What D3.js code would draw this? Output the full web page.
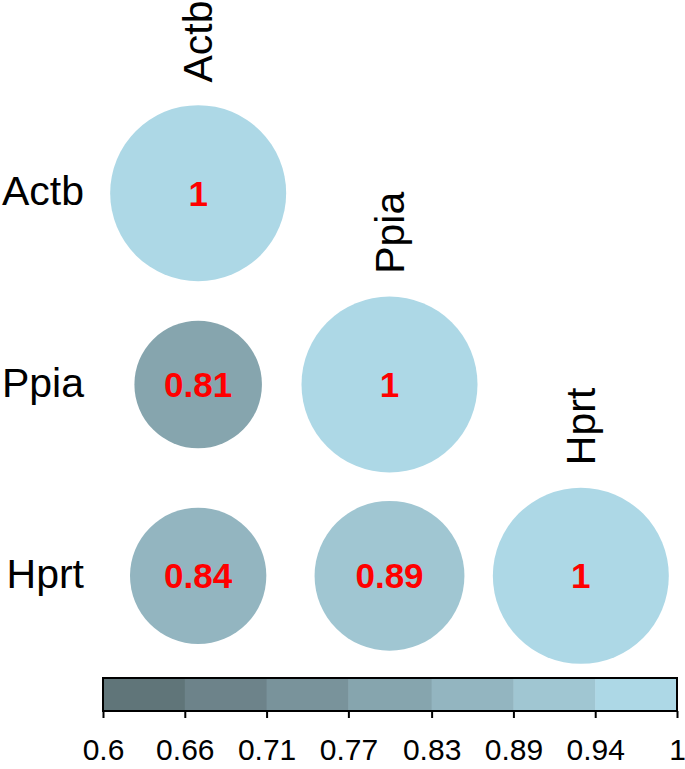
<!DOCTYPE html>
<html>
<head>
<meta charset="utf-8">
<script src="https://cdn.jsdelivr.net/npm/d3@7"></script>
<style>
  html, body { margin: 0; padding: 0; background: #ffffff; }
  svg { display: block; }
  text { font-family: "Liberation Sans", Arial, Helvetica, sans-serif; }
</style>
</head>
<body>
<svg id="chart" width="685" height="769"></svg>
<script>
// ---- data ----
const genes = ["Actb", "Ppia", "Hprt"];
// lower triangle of the correlation matrix (row i has i+1 values)
const corrRows = [
  [1],
  [0.81, 1],
  [0.84, 0.89, 1]
];
const corrLabels = [
  ["1"],
  ["0.81", "1"],
  ["0.84", "0.89", "1"]
];
const colorBreaks = [0.6, 0.657, 0.714, 0.771, 0.829, 0.886, 0.943, 1];
const colorTickLabels = ["0.6", "0.66", "0.71", "0.77", "0.83", "0.89", "0.94", "1"];
const binColors = ["#607579", "#6d838a", "#79939b", "#86a5ae", "#93b5c0", "#a0c6d2", "#add8e6"];

// ---- layout ----
const svg = d3.select("#chart");
const gridLeft = 102.5, gridRight = 676.5, gridTop = 97.5, gridBottom = 671.5;

const x = d3.scaleBand().domain(genes).range([gridLeft, gridRight]);
const y = d3.scaleBand().domain(genes).range([gridTop, gridBottom]);
// circle area proportional to (value - lower limit)
const r = d3.scaleRadial().domain([0.6, 1]).range([0, 88]).clamp(true);
const color = d3.scaleThreshold().domain(colorBreaks.slice(1, -1)).range(binColors);

const cells = [];
corrRows.forEach((row, i) => row.forEach((v, j) => {
  cells.push({ row: genes[i], col: genes[j], value: v, label: corrLabels[i][j] });
}));

// circles
svg.append("g").selectAll("circle")
  .data(cells).join("circle")
  .attr("cx", d => x(d.col) + x.bandwidth() / 2)
  .attr("cy", d => y(d.row) + y.bandwidth() / 2)
  .attr("r", d => r(d.value))
  .attr("fill", d => color(d.value));

// numbers
svg.append("g").selectAll("text")
  .data(cells).join("text")
  .attr("x", d => x(d.col) + x.bandwidth() / 2)
  .attr("y", d => y(d.row) + y.bandwidth() / 2)
  .attr("text-anchor", "middle")
  .attr("dominant-baseline", "central")
  .attr("font-size", 35)
  .attr("font-weight", "bold")
  .attr("fill", "#ff0000")
  .text(d => d.label);

// row labels
svg.append("g").selectAll("text")
  .data(genes).join("text")
  .attr("x", 84)
  .attr("y", d => y(d) + y.bandwidth() / 2 - 2)
  .attr("text-anchor", "end")
  .attr("dominant-baseline", "central")
  .attr("font-size", 41)
  .attr("fill", "#000")
  .text(d => d);

// column labels (above diagonal cells)
svg.append("g").selectAll("text")
  .data(genes).join("text")
  .attr("transform", d => `translate(${x(d) + x.bandwidth() / 2 + 14},${y(d) - 15}) rotate(-90)`)
  .attr("text-anchor", "start")
  .attr("font-size", 41)
  .attr("fill", "#000")
  .text(d => d);

// ---- colour bar ----
const cbTop = 678, cbBottom = 711;
const cbX = d3.scaleLinear().domain([0.6, 1]).range([103, 677]);
const bins = binColors.map((c, i) => ({ c, a: colorBreaks[i], b: colorBreaks[i + 1] }));

svg.append("g").selectAll("rect")
  .data(bins).join("rect")
  .attr("x", d => cbX(d.a))
  .attr("y", cbTop)
  .attr("width", d => cbX(d.b) - cbX(d.a) + 0.5)
  .attr("height", cbBottom - cbTop)
  .attr("fill", d => d.c);

svg.append("rect")
  .attr("x", cbX(0.6)).attr("y", cbTop)
  .attr("width", cbX(1) - cbX(0.6)).attr("height", cbBottom - cbTop)
  .attr("fill", "none").attr("stroke", "#000").attr("stroke-width", 2);

const axis = d3.axisBottom(cbX)
  .tickValues(colorBreaks)
  .tickFormat((d, i) => colorTickLabels[i])
  .tickSize(7)
  .tickPadding(21);

const axG = svg.append("g")
  .attr("transform", `translate(0,${cbBottom})`)
  .call(axis);
axG.select(".domain").remove();
axG.selectAll(".tick line").attr("stroke", "#000").attr("stroke-width", 2);
axG.selectAll(".tick text")
  .attr("font-size", 30)
  .attr("font-family", "'Liberation Sans', Arial, sans-serif")
  .attr("fill", "#000");
</script>
</body>
</html>
